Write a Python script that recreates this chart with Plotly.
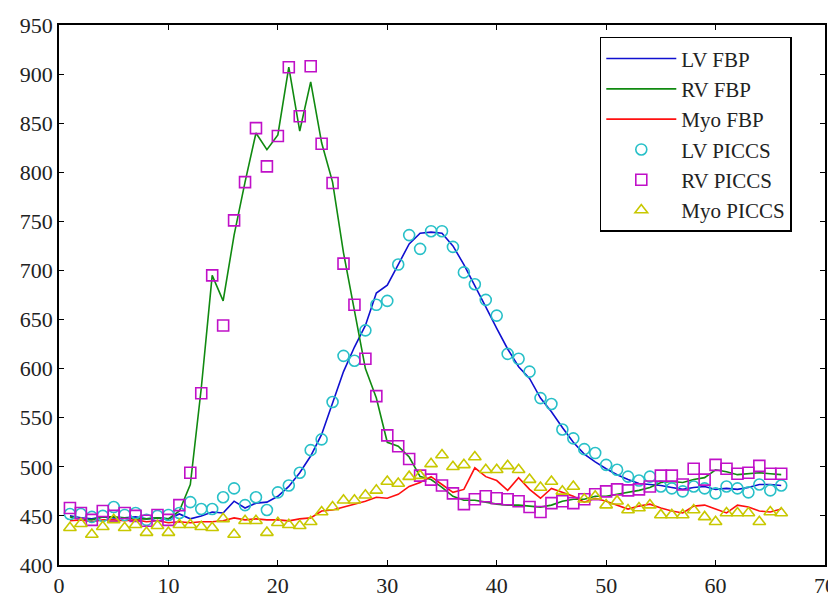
import plotly.graph_objects as go

frames = list(range(1, 67))

lv_fbp = [450, 448, 447, 449, 448, 448, 449, 447, 448, 447,
          452, 447, 450, 454, 453, 465, 458, 463, 464, 470,
          480, 494, 511, 533, 565, 597, 622, 644, 677, 685,
          706, 727, 738, 739, 738, 725, 706, 685, 663, 641,
          620, 602, 590, 570, 556, 540, 525, 513, 505, 498,
          492, 487, 483, 482, 481, 479, 477, 479, 480, 477,
          478, 477, 479, 482, 482, 481]

rv_fbp = [449, 447, 446, 449, 449, 448, 447, 447, 448, 447,
          455, 482, 580, 695, 669, 736, 790, 840, 823, 838,
          907, 842, 892, 830, 790, 718, 660, 600, 570, 525,
          521, 510, 490, 487, 479, 470, 466, 466, 464, 462,
          461, 461, 460, 459, 461, 465, 467, 467, 470, 470,
          472, 474, 476, 479, 484, 485, 484, 487, 489, 497,
          495, 492, 493, 494, 493, 492]

myo_fbp = [445, 446, 444, 446, 446, 445, 446, 444, 445, 443,
           444, 443, 444, 444, 445, 448, 446, 447, 446, 446,
           445, 447, 448, 455, 456, 459, 462, 465, 469, 468,
           472, 480, 484, 490, 482, 474, 477, 499, 490, 486,
           476, 489, 477, 468, 478, 474, 470, 464, 468, 465,
           461, 457, 460, 462, 458, 455, 453, 460, 461, 457,
           453, 461, 459, 455, 454, 457]

lv_piccs = [452, 452, 449, 450, 459, 451, 453, 446, 450, 451,
            453, 464, 457, 457, 469, 478, 461, 469, 456, 474,
            481, 494, 517, 528, 566, 613, 608, 639, 665, 669,
            706, 736, 722, 740, 740, 724, 698, 686, 670, 654,
            615, 610, 597, 570, 564, 538, 529, 518, 514, 502,
            497, 490, 486, 490, 480, 478, 475, 480, 478, 473,
            480, 478, 474, 482, 476, 481]

rv_piccs = [458, 453, 446, 455, 450, 453, 450, 445, 451, 446,
            461, 494, 575, 695, 644, 751, 790, 845, 806, 837,
            907, 857, 908, 829, 789, 707, 665, 610, 572, 532,
            521, 508, 491, 487, 481, 473, 462, 467, 470, 468,
            467, 465, 459, 454, 463, 465, 463, 467, 472, 475,
            477, 476, 477, 480, 491, 491, 482, 498, 487, 502,
            498, 493, 494, 501, 493, 493]

myo_piccs = [438, 442, 431, 439, 446, 438, 441, 433, 440, 433,
             441, 441, 439, 438, 447, 431, 445, 445, 433, 443,
             441, 440, 444, 454, 459, 466, 466, 471, 476, 485,
             483, 490, 491, 503, 512, 500, 502, 510, 497, 497,
             501, 497, 487, 479, 485, 475, 480, 467, 470, 461,
             465, 456, 458, 461, 451, 451, 451, 456, 449, 444,
             453, 453, 453, 444, 454, 453]

serif = "Liberation Serif, Times New Roman, DejaVu Serif, serif"

fig = go.Figure()

# FBP curves as lines
for name, vals, col in [("LV FBP", lv_fbp, "#1010d0"),
                        ("RV FBP", rv_fbp, "#108a10"),
                        ("Myo FBP", myo_fbp, "#ff1010")]:
    fig.add_trace(go.Scatter(x=frames, y=vals, mode="lines", name=name,
                             line=dict(color=col, width=1.6)))

# PICCS curves as open markers
for name, vals, col, sym in [("LV PICCS", lv_piccs, "#28c0c8", "circle-open"),
                             ("RV PICCS", rv_piccs, "#c010c8", "square-open"),
                             ("Myo PICCS", myo_piccs, "#c8c800", "triangle-up-open")]:
    fig.add_trace(go.Scatter(x=frames, y=vals, mode="markers", name=name,
                             marker=dict(symbol=sym, size=11, color=col,
                                         line=dict(width=1.6, color=col))))

axis_style = dict(showgrid=False, zeroline=False, showline=True, mirror="ticks",
                  linecolor="black", linewidth=1.5, ticks="inside", ticklen=5,
                  tickcolor="black", automargin=False,
                  tickfont=dict(family=serif, size=22, color="#222"))

fig.update_xaxes(range=[0, 70], dtick=10, **axis_style)
fig.update_yaxes(range=[400, 950], dtick=50, **axis_style)

# page body adds an 8px offset, so margins are shifted to compensate
fig.update_layout(
    width=836, height=600,
    margin=dict(l=51, r=19, t=17, b=43),
    plot_bgcolor="white", paper_bgcolor="white",
    font=dict(family=serif, color="#222"),
    legend=dict(x=0.706, y=0.978, xanchor="left", yanchor="top",
                bordercolor="black", borderwidth=1.5, bgcolor="white",
                font=dict(family=serif, size=21, color="#222"),
                itemwidth=70, tracegroupgap=0),
)

fig.write_html("out.html")
